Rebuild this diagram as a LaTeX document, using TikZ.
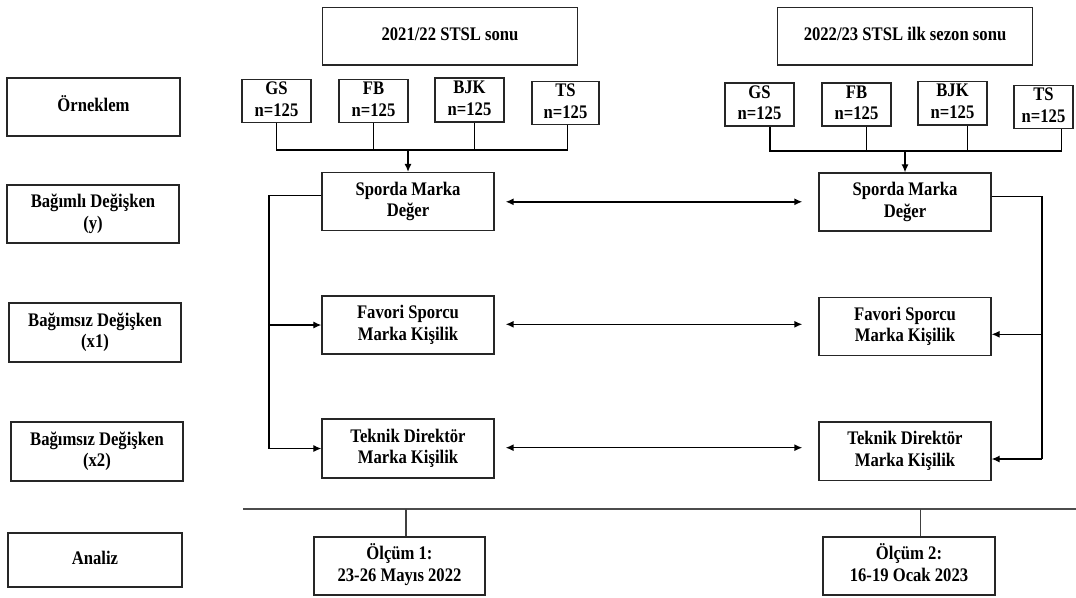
\documentclass[tikz,border=0pt]{standalone}
\usepackage{fontspec}
\usepackage{graphicx}
\setmainfont{Liberation Serif}
\usetikzlibrary{arrows.meta,calc}
% taller lettering for the box labels
\newcommand\tx[1]{\scalebox{1.04}[1.2]{\begin{tabular}{@{}c@{}}#1\end{tabular}}}
\begin{document}
\begin{tikzpicture}[x=1pt,y=-1pt,
  font=\bfseries\fontsize{16}{18}\selectfont,
  box/.style={draw=black!85, line width=1.3pt, align=center, inner sep=0pt,
              minimum width=172pt, minimum height=58pt},
  team/.style={box, minimum width=69pt, minimum height=43pt},
  link/.style={line width=1.2pt},
  arr/.style={link, -{Latex[length=8pt,width=7pt]}},
  dbl/.style={line width=1.4pt, {Latex[length=8pt,width=7pt]}-{Latex[length=8pt,width=7pt]}},
  rule/.style={line width=1.6pt, draw=black!70}
]
\useasboundingbox (0,0) rectangle (1076,597);

% season headers
\node[box, minimum width=255pt, minimum height=57.5pt] (T1) at (450,36.3) {\tx{2021/22 STSL sonu}};
\node[box, minimum width=255pt, minimum height=57.5pt] (T2) at (905,36.3) {\tx{2022/23 STSL ilk sezon sonu}};

% row labels
\node[box, minimum width=173pt] (L0) at (93.5,107) {\tx{Örneklem}};
\node[box] (L1) at (93,214) {\tx{Bağımlı Değişken\\(y)}};
\node[box, minimum height=59pt] (L2) at (95,332.5) {\tx{Bağımsız Değişken\\(x1)}};
\node[box, minimum height=59pt] (L3) at (97,451.5) {\tx{Bağımsız Değişken\\(x2)}};
\node[box, minimum width=174pt, minimum height=54pt] (L4) at (95,560) {\tx{Analiz}};

% samples, first measurement
\node[team] (GS1) at (276.5,101) {\tx{GS\\n=125}};
\node[team] (FB1) at (373.5,101) {\tx{FB\\n=125}};
\node[team, minimum height=44pt] (BJK1) at (469.5,100) {\tx{BJK\\n=125}};
\node[team, minimum width=67pt, minimum height=42pt] (TS1) at (565.5,103) {\tx{TS\\n=125}};

% samples, second measurement
\node[team, minimum height=42.5pt] (GS2) at (759.5,104.5) {\tx{GS\\n=125}};
\node[team, minimum height=42.5pt] (FB2) at (856.5,104.5) {\tx{FB\\n=125}};
\node[team, minimum height=42.5pt] (BJK2) at (952.5,103.3) {\tx{BJK\\n=125}};
\node[team, minimum width=59pt, minimum height=42pt] (TS2) at (1043.5,107) {\tx{TS\\n=125}};

% variables
\node[box] (S1) at (408,201.5) {\tx{Sporda Marka\\Değer}};
\node[box] (F1) at (408,325) {\tx{Favori Sporcu\\Marka Kişilik}};
\node[box, minimum height=59pt] (K1) at (408,448.5) {\tx{Teknik Direktör\\Marka Kişilik}};
\node[box] (S2) at (905,202) {\tx{Sporda Marka\\Değer}};
\node[box] (F2) at (905,326.7) {\tx{Favori Sporcu\\Marka Kişilik}};
\node[box, minimum height=58.7pt] (K2) at (905,451.4) {\tx{Teknik Direktör\\Marka Kişilik}};

% measurements
\node[box, minimum width=171pt] (O1) at (399.5,566) {\tx{Ölçüm 1:\\23-26 Mayıs 2022}};
\node[box] (O2) at (909,566) {\tx{Ölçüm 2:\\16-19 Ocak 2023}};

% sample buses
\coordinate (bus1) at (408,150);
\draw[link] (GS1.south) |- (bus1) -| (567.5,0 |- TS1.south);
\draw[link] (FB1.south) -- (FB1.south |- bus1);
\draw[link] (474.5,0 |- BJK1.south) -- (474.5,150);
\draw[arr] (bus1) -- (S1.north);

\coordinate (bus2) at (905,151);
\draw[link] (770,0 |- GS2.south) |- (bus2) -| (1061.7,0 |- TS2.south);
\draw[link] (866.5,0 |- FB2.south) -- (866.5,151);
\draw[link] (967.5,0 |- BJK2.south) -- (967.5,151);
\draw[arr] (bus2) -- (S2.north);

% links between the two measurements
\draw[dbl, shorten <=11pt, shorten >=16pt] ([yshift=-0.3pt]S1.east) -- ([yshift=-0.3pt]S1.east -| S2.west);
\draw[dbl, shorten <=11pt, shorten >=16pt] ([yshift=0.7pt]F1.east) -- ([yshift=0.7pt]F1.east -| F2.west);
\draw[dbl, shorten <=11pt, shorten >=16pt] ([yshift=0.8pt]K1.east) -- ([yshift=0.8pt]K1.east -| K2.west);

% left bracket
\coordinate (lbx) at (269,0);
\draw[arr] ([yshift=5.8pt]S1.west) -| (lbx |- K1.west) -- (K1.west);
\draw[arr] (lbx |- F1.west) -- (F1.west);

% right bracket
\coordinate (rbx) at (1042,0);
\coordinate (f2in) at ([yshift=-7.6pt]F2.east);
\coordinate (k2in) at ([yshift=-7.6pt]K2.east);
\draw[link] ([yshift=5.3pt]S2.east) -| (rbx |- k2in);
\draw[arr] (rbx |- k2in) -- (k2in);
\draw[arr] (rbx |- f2in) -- (f2in);

% time line
\coordinate (tl0) at (243,509);
\coordinate (tl1) at (1076,509);
\draw[rule] (tl0) -- (tl1);
\draw[link, draw=black!75] (406,509) -- (406,0 |- O1.north);
\draw[link, draw=black!75] (920.5,509) -- (920.5,0 |- O2.north);
\end{tikzpicture}
\end{document}
